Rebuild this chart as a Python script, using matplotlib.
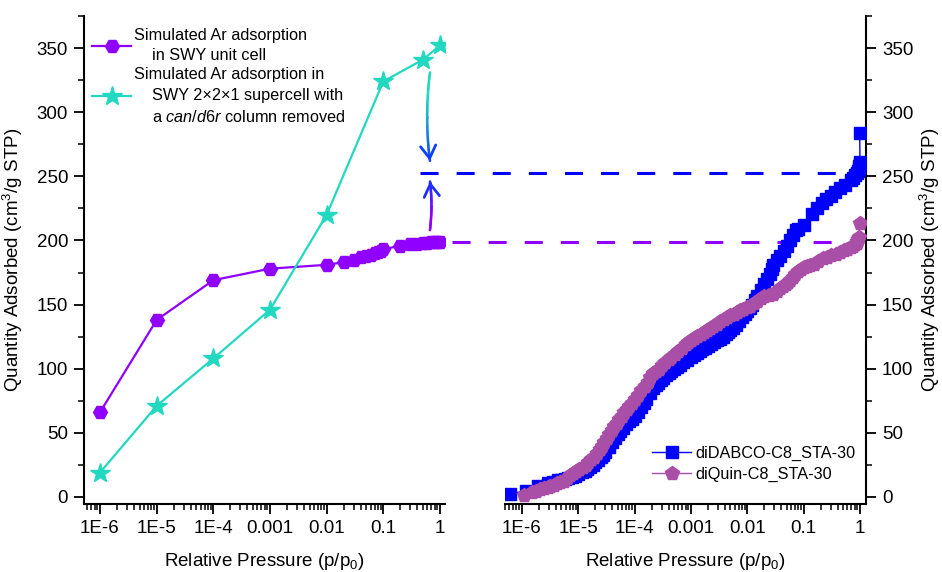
import numpy as np
import matplotlib
matplotlib.use("Agg")
import matplotlib.pyplot as plt
from matplotlib.collections import LineCollection
from matplotlib.lines import Line2D
from matplotlib.colors import to_rgb
from matplotlib.ticker import LogLocator, NullFormatter, MultipleLocator
from matplotlib.transforms import blended_transform_factory

plt.rcParams['font.family'] = ['Liberation Sans', 'DejaVu Sans']
plt.rcParams['mathtext.fontset'] = 'custom'
plt.rcParams['mathtext.rm'] = 'Liberation Sans'
plt.rcParams['mathtext.it'] = 'Liberation Sans:italic'
plt.rcParams['lines.scale_dashes'] = False

# ---- simulated isotherms (left panel)
p_cell = [1e-6, 1e-5, 1e-4, 1e-3, 1e-2, 0.02, 0.03, 0.04, 0.05, 0.06, 0.07, 0.08,
          0.09, 0.1, 0.2, 0.3, 0.4, 0.5, 0.6, 0.7, 0.8, 0.9, 1.0]
q_cell = [66, 138, 169, 178, 181, 183, 185, 187, 188, 189, 190, 191,
          192, 193, 196, 197, 197.5, 198, 198, 198.5, 198.5, 199, 199]

p_super = [1e-6, 1e-5, 1e-4, 1e-3, 1e-2, 0.1, 0.5, 1.0]
q_super = [19, 71, 108, 146, 220, 324, 341, 352]

# ---- measured isotherms (right panel)
p_dabco = [6.2e-7, 1.2e-6, 1.9e-6, 2.9e-6, 3.6e-6, 4.3e-6, 5.0e-6, 5.8e-6, 6.6e-6,
           7.6e-6, 8.7e-6, 1.0e-5, 1.15e-5, 1.3e-5, 1.45e-5, 1.6e-5, 1.8e-5, 2.0e-5,
           2.25e-5, 2.5e-5, 2.75e-5, 3.0e-5, 3.5e-5, 4.0e-5, 4.5e-5, 5.0e-5, 5.6e-5,
           6.3e-5, 7.1e-5, 8.0e-5, 9.0e-5, 1.0e-4, 1.15e-4, 1.3e-4, 1.45e-4, 1.6e-4,
           1.85e-4, 2.1e-4, 2.35e-4, 2.6e-4, 2.9e-4, 3.2e-4, 3.6e-4, 4.0e-4, 4.5e-4,
           5.0e-4, 5.6e-4, 6.3e-4, 7.3e-4, 8.5e-4, 1.0e-3, 1.15e-3, 1.3e-3, 1.45e-3,
           1.6e-3, 1.8e-3, 2.0e-3, 2.3e-3, 2.6e-3, 2.95e-3, 3.3e-3, 3.7e-3, 4.2e-3,
           4.6e-3, 5.0e-3, 5.6e-3, 6.3e-3, 7.1e-3, 8.0e-3, 9.0e-3, 1.0e-2, 1.1e-2,
           1.2e-2, 1.35e-2, 1.5e-2, 1.75e-2, 2.0e-2, 2.25e-2, 2.5e-2, 2.7e-2, 2.9e-2,
           3.3e-2, 3.8e-2, 4.4e-2, 5.0e-2, 5.8e-2, 6.6e-2, 7.2e-2, 8.0e-2, 0.10,
           0.14, 0.17, 0.21, 0.25, 0.30, 0.36, 0.45, 0.55, 0.68, 0.76, 0.83, 0.88,
           0.93, 0.96, 0.98, 0.99, 1.0, 0.99]
q_dabco = [2.3, 5, 8.5, 11, 12, 13, 13.5, 14, 14.8,
           15.5, 16.7, 18, 19.3, 20.5, 22, 23.5, 25.2, 27,
           29, 31, 33, 35, 39, 43, 46, 49, 51.5,
           54, 56.5, 59, 61, 63, 66.5, 70, 73, 76,
           81, 85, 87, 89, 91, 93, 95, 96.5, 98.3,
           100, 101.5, 103, 105, 107, 109, 110.5, 112, 113.5,
           115, 116.5, 118, 119.5, 121, 122.3, 123.5, 125, 127,
           128.5, 130, 132, 134, 137, 140, 142.5, 145, 147.5,
           150, 153.5, 157, 161.5, 166, 170, 174, 177.5, 181,
           184.5, 188, 192, 196, 200, 204, 208, 209, 212,
           221, 225, 229, 232, 235, 237.5, 241, 243.5, 247, 249, 251, 252.5,
           254, 256, 258, 259.5, 261, 283.5]

p_quin = [1.1e-6, 1.5e-6, 1.8e-6, 2.1e-6, 2.5e-6, 2.85e-6, 3.2e-6, 3.7e-6, 4.2e-6,
          4.8e-6, 5.5e-6, 6.2e-6, 7.0e-6, 8.0e-6, 9.0e-6, 1.05e-5, 1.2e-5, 1.35e-5,
          1.5e-5, 1.7e-5, 1.9e-5, 2.15e-5, 2.4e-5, 2.65e-5, 2.9e-5, 3.2e-5, 3.5e-5,
          3.9e-5, 4.3e-5, 4.8e-5, 5.3e-5, 5.9e-5, 6.5e-5, 7.2e-5, 8.0e-5, 9.0e-5,
          1.0e-4, 1.15e-4, 1.3e-4, 1.5e-4, 1.7e-4, 1.9e-4, 2.1e-4, 2.4e-4, 2.7e-4,
          3.1e-4, 3.5e-4, 4.0e-4, 4.5e-4, 5.2e-4, 6.0e-4, 7.0e-4, 8.0e-4, 9.0e-4,
          1.0e-3, 1.15e-3, 1.3e-3, 1.5e-3, 1.7e-3, 1.95e-3, 2.2e-3, 2.5e-3, 2.9e-3,
          3.3e-3, 3.8e-3, 4.4e-3, 5.0e-3, 5.8e-3, 6.6e-3, 7.5e-3, 8.5e-3, 9.7e-3,
          1.1e-2, 1.3e-2, 1.5e-2, 1.75e-2, 2.0e-2, 2.4e-2, 2.9e-2, 3.3e-2, 3.8e-2,
          4.3e-2, 4.8e-2, 5.3e-2, 5.8e-2, 6.4e-2, 7.0e-2, 8.0e-2, 9.0e-2, 0.10,
          0.115, 0.13, 0.15, 0.18, 0.22, 0.26, 0.30, 0.37, 0.45, 0.52, 0.60,
          0.68, 0.76, 0.82, 0.87, 0.90, 0.93, 0.96, 0.99]
q_quin = [1.6, 3.5, 5, 6, 7, 7.8, 8.5, 9.5, 10.5,
          11.5, 12.5, 14.5, 17, 18.5, 20, 21.5, 23, 25,
          27, 29.3, 31.5, 34.3, 37, 40, 43, 46, 49,
          52, 55, 58, 61, 63.5, 66, 68.5, 71, 73.5,
          76, 79.5, 83, 86.5, 90, 93.5, 97, 98.5, 100,
          102.5, 105, 107.3, 109.5, 111.8, 114, 116.5, 119, 120.5,
          122, 123.8, 125.5, 127.3, 129, 130.5, 132, 133.5, 135,
          136.8, 138.5, 140, 141.5, 143, 144.5, 145.5, 146.5, 147.8,
          149, 151, 153, 154.8, 156.5, 157.3, 158, 160.5, 163,
          164.5, 166, 167.5, 169, 171.5, 174, 176, 178, 179,
          180, 181, 182, 184, 186, 187.3, 188.5, 189.8, 191, 192.3, 193.5,
          194.8, 196, 197, 198, 199.5, 201, 203, 213.5]

# plateau levels carried across both panels
q_level_super = 252.5
q_level_cell = 198.5

xticks = [1e-6, 1e-5, 1e-4, 1e-3, 1e-2, 1e-1, 1]
xticklabels = ['1E-6', '1E-5', '1E-4', '0.001', '0.01', '0.1', '1']

c_cell = '#8F00FF'
c_super = '#22D8C0'
c_dabco = '#0000FF'
c_quin = '#AA4FA8'

fig = plt.figure(figsize=(9.42, 5.72), dpi=100)
axL = fig.add_axes([84/942, 68/572, 361/942, 488/572])
axR = fig.add_axes([505/942, 68/572, 361/942, 488/572])

def style_axis(ax, right=False):
    ax.set_xscale('log')
    ax.set_ylim(-5.5, 375)
    ax.set_xticks(xticks)
    ax.set_xticklabels(xticklabels)
    ax.xaxis.set_minor_locator(LogLocator(base=10, subs=np.arange(2, 10), numticks=30))
    ax.xaxis.set_minor_formatter(NullFormatter())
    ax.yaxis.set_major_locator(MultipleLocator(50))
    ax.yaxis.set_minor_locator(MultipleLocator(25))
    ax.spines['top'].set_visible(False)
    for s in ax.spines.values():
        s.set_linewidth(1.5)
    if right:
        ax.spines['left'].set_visible(False)
        ax.yaxis.set_label_position('right')
        side = dict(left=False, labelleft=False, right=True, labelright=True)
    else:
        ax.spines['right'].set_visible(False)
        side = dict(left=True, labelleft=True, right=False, labelright=False)
    ax.tick_params(which='both', top=False, **side)
    ax.tick_params(which='major', direction='out', length=7.5, width=1.3, labelsize=13.5, pad=4)
    ax.tick_params(which='minor', direction='out', length=4.5, width=1.1)
    ax.set_xlabel('Relative Pressure (p/p$_0$)', fontsize=13.5, labelpad=10)
    ax.set_ylabel('Quantity Adsorbed (cm$^3$/g STP)', fontsize=13.5,
                  labelpad=3 if right else 8)

style_axis(axL)
axL.set_xlim(5.22e-7, 1.225)
style_axis(axR, right=True)
axR.set_xlim(5.0e-7, 1.28)

axL.plot(p_cell, q_cell, color=c_cell, lw=1.6, marker='H', ms=10,
         label='Simulated Ar adsorption\n    in SWY unit cell', zorder=3)
axL.plot(p_super, q_super, color=c_super, lw=1.6, marker='*', ms=15,
         label='Simulated Ar adsorption in\n    SWY 2\u00d72\u00d71 supercell with\n    a $\\it{can/d6r}$ column removed',
         zorder=3)

axR.plot(p_dabco, q_dabco, color=c_dabco, lw=1, marker='s', ms=8.5,
         label='diDABCO-C8_STA-30', zorder=3)
axR.plot(p_quin, q_quin, color=c_quin, lw=1, marker='p', ms=10.5,
         label='diQuin-C8_STA-30', zorder=4)

legL = axL.legend(loc='upper left', bbox_to_anchor=(92/942, 1 - 28/572),
                  bbox_transform=fig.transFigure, frameon=False, fontsize=11.7,
                  handlelength=2.4, handletextpad=0.2, labelspacing=0.25,
                  borderpad=0, borderaxespad=0)
for t in legL.get_texts():
    t.set_linespacing(1.45)
legR = axR.legend(loc='upper left', bbox_to_anchor=(652/942, 1 - 446/572),
                  bbox_transform=fig.transFigure, frameon=False, fontsize=11.7,
                  handlelength=2.4, handletextpad=0.3, labelspacing=0.35,
                  borderpad=0, borderaxespad=0)

# dashed plateau levels spanning the gap between panels
tr = blended_transform_factory(fig.transFigure, axR.transData)
axR.add_line(Line2D([420/942, 837/942], [q_level_super] * 2, transform=tr, color=c_dabco,
                    lw=2.2, dashes=(13, 13), clip_on=False, zorder=2))
axR.add_line(Line2D([452/942, 833/942], [q_level_cell] * 2, transform=tr, color=c_cell,
                    lw=2.2, dashes=(13, 13), clip_on=False, zorder=2))

# curved gradient arrows from each simulation to the measured plateau
def grad_arrow(ax, p0, pc, p1, c0, c1, n=40):
    t = np.linspace(0, 1, n)
    lx = [np.log10(p0[0]), np.log10(pc[0]), np.log10(p1[0])]
    xs = 10 ** ((1 - t) ** 2 * lx[0] + 2 * t * (1 - t) * lx[1] + t ** 2 * lx[2])
    ys = (1 - t) ** 2 * p0[1] + 2 * t * (1 - t) * pc[1] + t ** 2 * p1[1]
    pts = np.column_stack([xs, ys]).reshape(-1, 1, 2)
    segs = np.concatenate([pts[:-1], pts[1:]], axis=1)
    a, b = np.array(to_rgb(c0)), np.array(to_rgb(c1))
    w = np.clip((t[:-1] - 0.3) / 0.7, 0, 1)[:, None]
    cols = a * (1 - w) + b * w
    ax.add_collection(LineCollection(segs, colors=cols, linewidths=1.8, capstyle='round', zorder=5))
    ax.annotate('', xy=(xs[-1], ys[-1]), xytext=(xs[-3], ys[-3]),
                arrowprops=dict(arrowstyle='->,head_length=0.9,head_width=0.55',
                                color=c1, lw=2, shrinkA=0, shrinkB=0), zorder=6)

grad_arrow(axL, (0.665, 331), (0.53, 296), (0.665, 262), c_super, '#1040FF')
grad_arrow(axL, (0.665, 208), (0.75, 228), (0.665, 246), c_cell, '#2030FF')

fig.savefig('out.png', dpi=100)
